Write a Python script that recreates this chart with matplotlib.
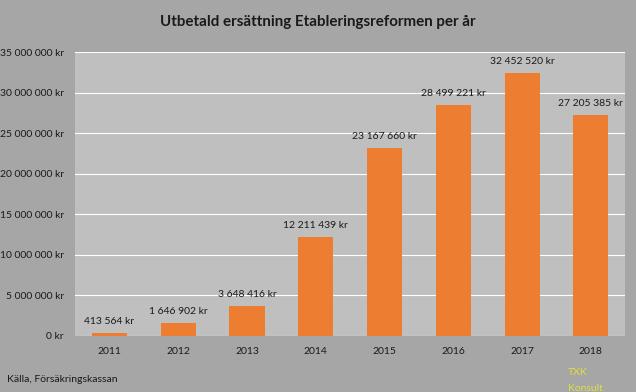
import matplotlib.pyplot as plt
from matplotlib.ticker import FuncFormatter

years = ["2011", "2012", "2013", "2014", "2015", "2016", "2017", "2018"]
belopp = [413564, 1646902, 3648416, 12211439, 23167660, 28499221, 32452520, 27205385]

plt.rcParams['font.family'] = ['Lato', 'DejaVu Sans']


def kr(v, pos=None):
    return "{:,}".format(int(v)).replace(",", " ") + " kr"


fig = plt.figure(figsize=(6.36, 3.92), dpi=100, facecolor='#a6a6a6')
ax = fig.add_axes([0.118, 0.143, 0.865, 0.724])
ax.set_facecolor('#bfbfbf')

x = list(range(len(years)))
bars = ax.bar(x, belopp, width=0.51, color='#ed7d31', zorder=3)
for xi, v in zip(x, belopp):
    ax.annotate(kr(v), (xi, v), xytext=(0, 5), textcoords='offset points',
                ha='center', va='bottom', fontsize=7.5, color='#1a1a1a')

ax.set_ylim(0, 35000000)
ax.set_xlim(-0.5, len(years) - 0.5)
ax.set_yticks(range(0, 35000001, 5000000))
ax.yaxis.set_major_formatter(FuncFormatter(kr))
ax.set_xticks(x)
ax.set_xticklabels(years)
ax.tick_params(axis='both', length=0, labelsize=7.5, colors='#1a1a1a')
ax.tick_params(axis='y', pad=8)
ax.tick_params(axis='x', pad=8)
ax.grid(axis='y', color='white', linewidth=0.8, zorder=0)
for s in ax.spines.values():
    s.set_visible(False)

fig.text(0.5, 0.944, "Utbetald ersättning Etableringsreformen per år",
         ha='center', va='center', fontsize=10.9, fontweight='bold', color='#1a1a1a')
fig.text(0.011, 0.033, "Källa, Försäkringskassan", ha='left', va='center',
         fontsize=7.5, color='#1a1a1a')
fig.text(0.893, 0.051, "TXK", ha='left', va='center', fontsize=7.5, color='#e0e040')
fig.text(0.893, 0.01, "Konsult", ha='left', va='center', fontsize=7.5, color='#e0e040')

fig.savefig('out.png', dpi=100, facecolor=fig.get_facecolor())
